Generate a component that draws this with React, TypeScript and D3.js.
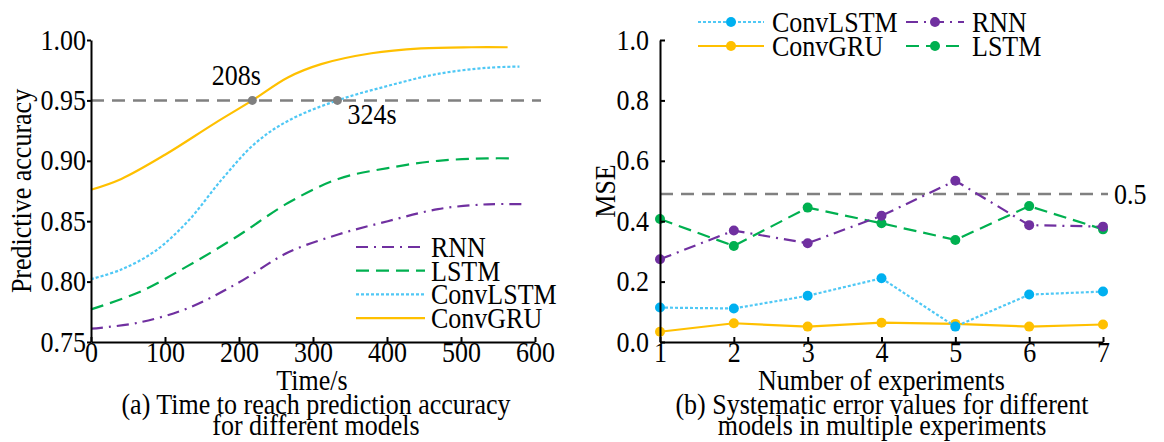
import React, { useEffect, useRef } from 'react';
import * as d3 from 'd3';

// (a) time vs predictive accuracy
const rnnTime = [0, 64, 131, 199, 266, 334, 401, 469, 536, 586];
const rnnAcc = [0.761, 0.766, 0.778, 0.799, 0.824, 0.839, 0.85, 0.86, 0.864, 0.864];
const lstmTime = [0, 64, 131, 199, 266, 334, 401, 469, 536, 574];
const lstmAcc = [0.777, 0.791, 0.813, 0.838, 0.865, 0.885, 0.894, 0.9, 0.902, 0.902];
const convLstmTime = [0, 41, 86, 131, 176, 221, 266, 333, 401, 469, 536, 579];
const convLstmAcc = [0.802, 0.81, 0.825, 0.85, 0.884, 0.914, 0.933, 0.95, 0.962, 0.972, 0.977, 0.978];
const convGruTime = [0, 41, 100, 167, 218, 266, 311, 379, 446, 514, 563];
const convGruAcc = [0.876, 0.885, 0.905, 0.931, 0.95, 0.969, 0.98, 0.989, 0.993, 0.994, 0.994];
const targetAcc = 0.95;
const reachTimes = [218, 333];
const reachLabels = ['208s', '324s'];
const timeTicks = [0, 100, 200, 300, 400, 500, 600];
const accTicks = [0.75, 0.8, 0.85, 0.9, 0.95, 1.0];

// (b) MSE per experiment
const experiments = [1, 2, 3, 4, 5, 6, 7];
const convLstmMse = [0.114, 0.111, 0.153, 0.211, 0.051, 0.157, 0.167];
const convGruMse = [0.034, 0.062, 0.051, 0.064, 0.06, 0.051, 0.058];
const rnnMse = [0.274, 0.369, 0.327, 0.418, 0.534, 0.387, 0.382];
const lstmMse = [0.407, 0.318, 0.445, 0.393, 0.338, 0.45, 0.373];
const mseLimit = 0.49;
const mseTicks = [0, 0.2, 0.4, 0.6, 0.8, 1.0];

const FONT = '"Liberation Serif", "Times New Roman", serif';
const FS = 26;
const STRETCH = 'scale(1,1.1)'; // the source type is a bit taller than wide

const C = {
  rnn: '#7030a0',
  lstm: '#00b050',
  convLstm: '#4fc8f5',
  convLstmDot: '#00b0f0',
  convGru: '#ffc000',
  grey: '#808080'
};

const DASH = {
  rnn: '12 6 2 6',
  lstm: '13 7',
  convLstm: '3 2',
  convGru: null as string | null
};

// layout
const A = { l: 91, r: 535, t: 40, b: 342 };
const B = { l: 660, r: 1103, t: 40, b: 342 };

const xA = d3.scaleLinear().domain([0, 600]).range([A.l, A.r]);
const yA = d3.scaleLinear().domain([0.75, 1.0]).range([A.b, A.t]);
const xB = d3.scaleLinear().domain([1, 7]).range([B.l, B.r]);
const yB = d3.scaleLinear().domain([0, 1]).range([B.b, B.t]);

const curveA = (ts: number[], vs: number[]) =>
  d3
    .line<number>()
    .x((_, i) => xA(ts[i]))
    .y((v) => yA(v))
    .curve(d3.curveCatmullRom.alpha(0.5))(vs) || '';

const lineB = (vs: number[]) =>
  d3
    .line<number>()
    .x((_, i) => xB(experiments[i]))
    .y((v) => yB(v))(vs) || '';

function styleAxis(g: d3.Selection<SVGGElement, unknown, null, undefined>) {
  g.selectAll('path').attr('stroke', '#000').attr('stroke-width', 2);
  g.selectAll('line').attr('stroke', '#000').attr('stroke-width', 2);
  g.selectAll('text')
    .attr('fill', '#000')
    .attr('transform', STRETCH)
    .style('font-family', FONT)
    .style('font-size', FS + 'px');
  g.attr('font-family', null).attr('font-size', null);
}

const seriesA = [
  { key: 'rnn', name: 'RNN', t: rnnTime, v: rnnAcc },
  { key: 'lstm', name: 'LSTM', t: lstmTime, v: lstmAcc },
  { key: 'convLstm', name: 'ConvLSTM', t: convLstmTime, v: convLstmAcc },
  { key: 'convGru', name: 'ConvGRU', t: convGruTime, v: convGruAcc }
];

const seriesB = [
  { key: 'convGru', name: 'ConvGRU', v: convGruMse },
  { key: 'convLstm', name: 'ConvLSTM', v: convLstmMse },
  { key: 'lstm', name: 'LSTM', v: lstmMse },
  { key: 'rnn', name: 'RNN', v: rnnMse }
];

const legendB = [
  { key: 'convLstm', name: 'ConvLSTM', x: 698, y: 22, w: 66 },
  { key: 'convGru', name: 'ConvGRU', x: 698, y: 46, w: 66 },
  { key: 'rnn', name: 'RNN', x: 906, y: 22, w: 58 },
  { key: 'lstm', name: 'LSTM', x: 906, y: 46, w: 58 }
];

const dotColor = (k: string) => (k === 'convLstm' ? C.convLstmDot : (C as any)[k]);

// text drawn centred on y, slightly stretched vertically
const T = ({
  x,
  y,
  anchor = 'start',
  rotate = 0,
  children
}: {
  x: number;
  y: number;
  anchor?: string;
  rotate?: number;
  children: React.ReactNode;
}) => (
  <text
    transform={`translate(${x},${y}) rotate(${rotate}) ${STRETCH}`}
    dy="0.35em"
    textAnchor={anchor as any}
    style={{ fontFamily: FONT, fontSize: FS, fill: '#000' }}
  >
    {children}
  </text>
);

export default function App() {
  const axA_x = useRef<SVGGElement>(null);
  const axA_y = useRef<SVGGElement>(null);
  const axB_x = useRef<SVGGElement>(null);
  const axB_y = useRef<SVGGElement>(null);

  useEffect(() => {
    const ax = d3.select(axA_x.current!);
    ax.selectAll('*').remove();
    ax.call(d3.axisBottom(xA).tickValues(timeTicks).tickSizeInner(-5).tickSizeOuter(0).tickPadding(0));
    styleAxis(ax);

    const ay = d3.select(axA_y.current!);
    ay.selectAll('*').remove();
    ay.call(
      d3.axisLeft(yA).tickValues(accTicks).tickFormat(d3.format('.2f')).tickSizeInner(4).tickSizeOuter(0).tickPadding(1)
    );
    styleAxis(ay);

    const bx = d3.select(axB_x.current!);
    bx.selectAll('*').remove();
    bx.call(
      d3.axisBottom(xB).tickValues(experiments).tickFormat(d3.format('d')).tickSizeInner(-5).tickSizeOuter(0).tickPadding(0)
    );
    styleAxis(bx);

    const by = d3.select(axB_y.current!);
    by.selectAll('*').remove();
    by.call(
      d3.axisLeft(yB).tickValues(mseTicks).tickFormat(d3.format('.1f')).tickSizeInner(-5).tickSizeOuter(0).tickPadding(11)
    );
    styleAxis(by);
  }, []);

  return (
    <svg
      width={1164}
      height={442}
      style={{ position: 'absolute', left: 0, top: 0, background: '#fff' }}
    >
      {/* ---------- (a) ---------- */}
      <line
        x1={A.l}
        x2={A.r + 6}
        y1={yA(targetAcc)}
        y2={yA(targetAcc)}
        stroke={C.grey}
        strokeWidth={2.5}
        strokeDasharray="13 8"
      />
      {seriesA.map((s) => (
        <path
          key={s.key}
          d={curveA(s.t, s.v)}
          fill="none"
          stroke={(C as any)[s.key]}
          strokeWidth={2.2}
          strokeDasharray={(DASH as any)[s.key] || undefined}
        />
      ))}
      {reachTimes.map((t) => (
        <circle key={t} cx={xA(t)} cy={yA(targetAcc)} r={4.5} fill="#7f7f7f" />
      ))}
      <T x={xA(reachTimes[0]) - 16} y={75} anchor="middle">
        {reachLabels[0]}
      </T>
      <T x={xA(reachTimes[1]) + 10} y={114}>
        {reachLabels[1]}
      </T>
      {seriesA.map((s, i) => {
        const y = 247 + i * 23.7;
        return (
          <g key={s.key}>
            <line
              x1={356}
              x2={425}
              y1={y}
              y2={y}
              stroke={(C as any)[s.key]}
              strokeWidth={2.2}
              strokeDasharray={(DASH as any)[s.key] || undefined}
            />
            <T x={431} y={y}>
              {s.name}
            </T>
          </g>
        );
      })}
      <g ref={axA_x} transform={`translate(0,${A.b})`} />
      <g ref={axA_y} transform={`translate(${A.l},0)`} />
      <T x={xA(300) - 1} y={380} anchor="middle">
        Time/s
      </T>
      <T x={21} y={(A.t + A.b) / 2} anchor="middle" rotate={-90}>
        Predictive accuracy
      </T>
      <T x={316} y={404} anchor="middle">
        (a) Time to reach prediction accuracy
      </T>
      <T x={316} y={425} anchor="middle">
        for different models
      </T>

      {/* ---------- (b) ---------- */}
      <line
        x1={B.l}
        x2={1108}
        y1={yB(mseLimit)}
        y2={yB(mseLimit)}
        stroke={C.grey}
        strokeWidth={2.5}
        strokeDasharray="13 8"
      />
      <T x={1114} y={yB(mseLimit)}>0.5</T>
      {seriesB.map((s) => (
        <g key={s.key}>
          <path
            d={lineB(s.v)}
            fill="none"
            stroke={(C as any)[s.key]}
            strokeWidth={2.2}
            strokeDasharray={(DASH as any)[s.key] || undefined}
          />
          {s.v.map((v, i) => (
            <circle key={i} cx={xB(experiments[i])} cy={yB(v)} r={5} fill={dotColor(s.key)} />
          ))}
        </g>
      ))}
      {legendB.map((l) => (
        <g key={l.key}>
          <line
            x1={l.x}
            x2={l.x + l.w}
            y1={l.y}
            y2={l.y}
            stroke={(C as any)[l.key]}
            strokeWidth={2.2}
            strokeDasharray={(DASH as any)[l.key] || undefined}
          />
          <circle cx={l.x + l.w / 2} cy={l.y} r={5} fill={dotColor(l.key)} />
          <T x={l.x + l.w + 8} y={l.y}>
            {l.name}
          </T>
        </g>
      ))}
      <g ref={axB_x} transform={`translate(0,${B.b})`} />
      <g ref={axB_y} transform={`translate(${B.l},0)`} />
      <T x={(B.l + B.r) / 2} y={380} anchor="middle">
        Number of experiments
      </T>
      <T x={605} y={(B.t + B.b) / 2} anchor="middle" rotate={-90}>
        MSE
      </T>
      <T x={882} y={404} anchor="middle">
        (b) Systematic error values for different
      </T>
      <T x={882} y={425} anchor="middle">
        models in multiple experiments
      </T>
    </svg>
  );
}
